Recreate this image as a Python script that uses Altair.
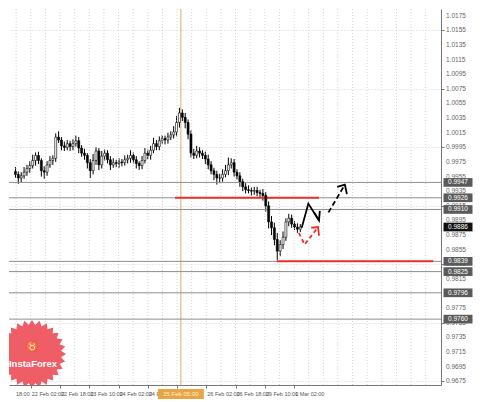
import math
import altair as alt
import pandas as pd

# ---------------- data ----------------
first_open = 0.9962
close = [0.9958, 0.9953, 0.9956, 0.9961, 0.9966, 0.9970, 0.9977, 0.9984, 0.9977, 0.9963,
         0.9961, 0.9971, 0.9977, 0.9980, 1.0009, 1.0005, 0.9997, 0.9995, 1.0000, 0.9996,
         1.0000, 1.0004, 0.9994, 0.9987, 0.9984, 0.9974, 0.9963, 0.9977, 0.9990, 0.9971,
         0.9983, 0.9987, 0.9978, 0.9971, 0.9974, 0.9973, 0.9975, 0.9974, 0.9978, 0.9980,
         0.9984, 0.9978, 0.9973, 0.9970, 0.9977, 0.9987, 0.9984, 0.9991, 1.0000, 0.9996,
         1.0004, 1.0007, 1.0005, 1.0009, 1.0012, 1.0016, 1.0029, 1.0042, 1.0036, 1.0029,
         1.0013, 0.9987, 0.9984, 0.9990, 0.9987, 0.9984, 0.9979, 0.9971, 0.9963, 0.9958,
         0.9953, 0.9953, 0.9958, 0.9963, 0.9971, 0.9974, 0.9961, 0.9956, 0.9948, 0.9941,
         0.9937, 0.9936, 0.9935, 0.9936, 0.9933, 0.9932, 0.9929, 0.9915, 0.9893, 0.9885,
         0.9869, 0.9853, 0.9862, 0.9872, 0.9893, 0.9898, 0.9890, 0.9886, 0.9883, 0.9886]
up_pips = [6, 4, 5, 7, 5, 6, 8, 4, 5, 3, 6, 5, 6, 4, 5, 8, 4, 6, 5, 4,
           6, 7, 5, 4, 6, 3, 5, 9, 5, 4, 7, 5, 4, 5, 6, 4, 5, 4, 6, 5,
           7, 4, 5, 3, 6, 7, 5, 6, 8, 5, 6, 5, 4, 6, 5, 8, 9, 7, 5, 6,
           4, 5, 6, 7, 5, 4, 5, 6, 5, 4, 5, 6, 7, 8, 10, 6, 5, 4, 5, 4,
           5, 6, 4, 5, 5, 4, 6, 5, 6, 8, 7, 9, 6, 8, 5, 6, 5, 4, 5, 4]
dn_pips = [5, 8, 6, 4, 5, 6, 4, 7, 5, 8, 9, 5, 4, 6, 5, 4, 6, 5, 4, 6,
           5, 4, 7, 5, 6, 8, 10, 5, 6, 7, 5, 6, 5, 7, 4, 5, 6, 5, 4, 5,
           6, 5, 7, 6, 5, 4, 5, 6, 4, 5, 5, 4, 6, 5, 4, 5, 6, 7, 5, 8,
           7, 6, 5, 4, 6, 5, 7, 6, 5, 8, 9, 7, 5, 4, 6, 5, 6, 5, 7, 6,
           5, 4, 6, 5, 5, 6, 7, 8, 9, 10, 8, 12, 7, 6, 5, 6, 5, 4, 5, 4]

y_ticks = [1.0175, 1.0155, 1.0135, 1.0115, 1.0095, 1.0075, 1.0055, 1.0035, 1.0015,
           0.9995, 0.9975, 0.9955, 0.9935, 0.9915, 0.9895, 0.9875, 0.9855, 0.9835,
           0.9815, 0.9795, 0.9775, 0.9755, 0.9735, 0.9715, 0.9695, 0.9675]

x_label_pos = [-0.17, 5.33, 15.5, 25.67, 35.83, 46.0, 66.33, 76.5, 86.67, 96.83]
x_label_text = ["18:00", "22 Feb 02:00", "22 Feb 18:00", "23 Feb 10:00", "24 Feb 02:00",
                "24 Feb 18:00", "26 Feb 02:00", "26 Feb 18:00",
                "29 Feb 10:00", "1 Mar 02:00"]
x_tick_pos = [5.33, 15.5, 25.67, 35.83, 46.0, 56.17, 66.33, 76.5, 86.67, 96.83]
grid_x = [0.25, 5.33, 10.42, 15.5, 20.58, 25.67, 30.75, 35.83, 40.92, 46.0, 51.08, 56.17,
          61.25, 66.33, 71.42, 76.5, 81.58, 86.67, 91.75, 96.83, 101.92, 107.0, 112.08,
          117.17, 122.25, 127.33, 132.42, 137.5, 142.58]

levels = [0.9947, 0.9926, 0.9910, 0.9839, 0.9825, 0.9796, 0.9760]
current_price = 0.9886

red_y = [0.9926, 0.9839]
red_x0 = [55.5, 90.8]
red_x1 = [105.5, 145.2]

cross_x = 57.5
cross_label = "25 Feb 05:00"

# arrow paths (bar index, price)
black_solid_x = [99.5, 101.8, 105.5]
black_solid_y = [0.9885, 0.9918, 0.9895]
black_solid_head_x = [103.8, 105.5, 105.8]
black_solid_head_y = [0.9906, 0.9895, 0.9908]
black_dash_x = [108.8, 114.5]
black_dash_y = [0.9906, 0.9944]
black_dash_head_x = [111.8, 114.5, 115.2]
black_dash_head_y = [0.9941, 0.9944, 0.9931]
red_dash_x = [98.5, 100.5, 105.2]
red_dash_y = [0.9878, 0.9862, 0.9886]
red_dash_head_x = [102.8, 105.2, 105.5]
red_dash_head_y = [0.9885, 0.9886, 0.9874]

# ---------------- frames ----------------
W, H = 432, 376
XDOM = [-0.5, 146.17]
YDOM = [0.96699, 1.01842]
FONT = "Liberation Sans"

opens = [first_open] + close[:-1]
candles = pd.DataFrame({
    "i": list(range(len(close))),
    "open": opens,
    "close": close,
    "high": [max(o, c) + u * 0.0001 for o, c, u in zip(opens, close, up_pips)],
    "low": [min(o, c) - d * 0.0001 for o, c, d in zip(opens, close, dn_pips)],
})
candles["bull"] = candles["close"] >= candles["open"]

xs = alt.Scale(domain=XDOM, nice=False, zero=False)
ys = alt.Scale(domain=YDOM, nice=False, zero=False)

yaxis = alt.Axis(orient="right", values=y_ticks, labels=False, tickSize=3,
                 tickColor="#777777", domainColor="#777777", gridColor="#d4d4d4",
                 gridDash=[1, 2], title=None)
xaxis = alt.Axis(orient="bottom", values=x_tick_pos, labels=False, grid=False,
                 tickSize=3, tickColor="#777777", domainColor="#777777", title=None)

base = alt.Chart(candles)

wicks = base.mark_rule(color="#000000", strokeWidth=1).encode(
    x=alt.X("i:Q", scale=xs, axis=xaxis),
    y=alt.Y("low:Q", scale=ys, axis=yaxis),
    y2="high:Q",
)
bodies = base.mark_bar(size=2, stroke="#000000", strokeWidth=0.6).encode(
    x=alt.X("i:Q", scale=xs),
    y=alt.Y("open:Q", scale=ys),
    y2="close:Q",
    fill=alt.condition("datum.bull", alt.value("#ffffff"), alt.value("#000000")),
)

vgrid = alt.Chart(pd.DataFrame({"g": grid_x})).mark_rule(
    color="#d4d4d4", strokeDash=[1, 2], strokeWidth=1
).encode(x=alt.X("g:Q", scale=xs))

cross = alt.Chart(pd.DataFrame({"c": [cross_x]})).mark_rule(
    color="#d9a77c", strokeWidth=1
).encode(x=alt.X("c:Q", scale=xs))

lev = alt.Chart(pd.DataFrame({"p": levels})).mark_rule(
    color="#8e8e8e", strokeWidth=1
).encode(y=alt.Y("p:Q", scale=ys))

reds = alt.Chart(pd.DataFrame({"y": red_y, "x0": red_x0, "x1": red_x1})).mark_rule(
    color="#e8302a", strokeWidth=2
).encode(x=alt.X("x0:Q", scale=xs), x2="x1:Q", y=alt.Y("y:Q", scale=ys))


def path_layer(px, py, color, dash, width=1.8):
    df = pd.DataFrame({"x": px, "y": py, "o": list(range(len(px)))})
    kw = dict(color=color, strokeWidth=width)
    if dash:
        kw["strokeDash"] = dash
    return alt.Chart(df).mark_line(**kw).encode(
        x=alt.X("x:Q", scale=xs), y=alt.Y("y:Q", scale=ys), order="o:Q")


arrows = [
    path_layer(black_solid_x, black_solid_y, "#000000", None),
    path_layer(black_solid_head_x, black_solid_head_y, "#000000", None),
    path_layer(black_dash_x, black_dash_y, "#000000", [5, 3]),
    path_layer(black_dash_head_x, black_dash_head_y, "#000000", None),
    path_layer(red_dash_x, red_dash_y, "#e8302a", [4, 3]),
    path_layer(red_dash_head_x, red_dash_head_y, "#e8302a", None),
]

# y tick labels (drawn as text so that every one shows)
ylab_vals = [v for v in y_ticks if all(abs(v - l) > 0.0003 for l in levels)]
ylab = alt.Chart(pd.DataFrame({"p": ylab_vals, "t": [f"{v:.4f}" for v in ylab_vals]})).mark_text(
    align="left", baseline="middle", fontSize=6.5, font=FONT, color="#666666"
).encode(x=alt.value(W + 5), y=alt.Y("p:Q", scale=ys), text="t:N")

# x labels
xlab = alt.Chart(pd.DataFrame({"x": x_label_pos, "t": x_label_text})).mark_text(
    align="left", baseline="middle", fontSize=5.5, font=FONT, color="#555555", dx=1
).encode(x=alt.X("x:Q", scale=xs), y=alt.value(H + 9), text="t:N")

box_path = "M-1,-0.22L1,-0.22L1,0.22L-1,0.22Z"
cross_box = alt.Chart(pd.DataFrame({"x": [cross_x], "t": [cross_label]})).mark_point(
    shape=box_path, size=2116, filled=True, color="#e9a445", opacity=1
).encode(x=alt.X("x:Q", scale=xs), y=alt.value(H + 9))
cross_txt = alt.Chart(pd.DataFrame({"x": [cross_x], "t": [cross_label]})).mark_text(
    fontSize=6, font=FONT, color="#fff3d8", baseline="middle"
).encode(x=alt.X("x:Q", scale=xs), y=alt.value(H + 9), text="t:N")

# boxed price labels at right
tags = pd.DataFrame({
    "p": levels + [current_price],
    "t": [f"{v:.4f}" for v in levels + [current_price]],
    "c": ["#5a5a5a"] * len(levels) + ["#111111"],
})
tag_path = "M-1,-0.3L1,-0.3L1,0.3L-1,0.3Z"
tag_box = alt.Chart(tags).mark_point(shape=tag_path, size=841, filled=True, opacity=1).encode(
    x=alt.value(W + 17), y=alt.Y("p:Q", scale=ys), color=alt.Color("c:N", scale=None))
tag_txt = alt.Chart(tags).mark_text(
    fontSize=6.5, font=FONT, color="#ffffff", baseline="middle"
).encode(x=alt.value(W + 17), y=alt.Y("p:Q", scale=ys), text="t:N")

# InstaForex badge
n = 28
pts = []
for k in range(2 * n):
    r = 1.0 if k % 2 == 0 else 0.86
    a = math.pi * k / n
    pts.append(f"{r * math.cos(a):.3f},{r * math.sin(a):.3f}")
star_path = "M" + "L".join(pts) + "Z"
badge = alt.Chart(pd.DataFrame({"a": [1]})).mark_point(
    shape=star_path, size=4624, filled=True, color="#ef5d66", opacity=1, clip=True
).encode(x=alt.value(23), y=alt.value(345))
badge_txt = alt.Chart(pd.DataFrame({"t": ["InstaForex"]})).mark_text(
    fontSize=9.5, font=FONT, fontWeight="bold", color="#ffffff", baseline="middle", clip=True
).encode(x=alt.value(24), y=alt.value(355), text="t:N")
badge_icon = alt.Chart(pd.DataFrame({"t": ["♉"]})).mark_text(
    fontSize=10, color="#ffffff", baseline="middle"
).encode(x=alt.value(23), y=alt.value(338), text="t:N")

chart = alt.layer(
    wicks, vgrid, cross, lev, reds, bodies, *arrows,
    ylab, xlab, cross_box, cross_txt, tag_box, tag_txt, badge, badge_txt, badge_icon
).properties(
    width=W, height=H, padding=0, background="#ffffff"
).configure_view(stroke="transparent")

chart.save("out.html", embed_options={"renderer": "svg", "actions": False})
